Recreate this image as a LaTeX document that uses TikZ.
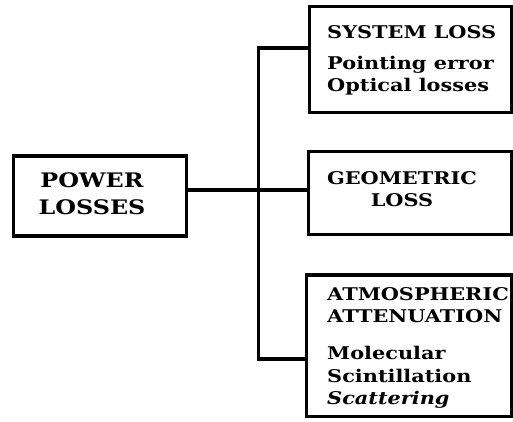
\documentclass[tikz,border=0pt]{standalone}
\usepackage{fontspec}
\setmainfont{DejaVu Serif}
\tikzset{%
  % Specifications for style of boxes and their texts:
        lossbox/.style = {rectangle, draw=black, line width=3.3pt,
                          inner sep=0pt},
        boxtext/.style = {inner sep=0pt, align=left, anchor=north west,
                          font=\bfseries\fontsize{17.5}{22.5}\selectfont,
                          xscale=1.19, transform shape},
      powertext/.style = {boxtext, align=center, anchor=north,
                          font=\bfseries\fontsize{20}{27}\selectfont},
      connector/.style = {line width=3.3pt, line join=miter}
}
\begin{document}
\begin{tikzpicture}[x=1pt, y=1pt]
  \useasboundingbox (0,0) rectangle (513,421);
  % Specification of boxes (position, size)
  \node (power) [lossbox, minimum width=173pt, minimum height=80pt]  at (100,225)    {};
  \node (sys)   [lossbox, minimum width=202pt, minimum height=106pt] at (410.5,361.5) {};
  \node (geo)   [lossbox, minimum width=203pt, minimum height=83pt]  at (410,228)    {};
  \node (atmo)  [lossbox, minimum width=205pt, minimum height=141.5pt] at (409,75.25) {};

  % Texts inside the boxes
  \node (powertxt) [powertext] at (92,249)  {POWER\\LOSSES};
  \node (systxt)   [boxtext]   at (327,396) {SYSTEM LOSS\\[8.5pt]Pointing error\\Optical losses};
  \node (geotxt)   [boxtext, align=center, anchor=north] at (402,250) {GEOMETRIC\\LOSS};
  \node (atmotxt)  [boxtext]   at (327,134) {ATMOSPHERIC\\ATTENUATION\\[14.5pt]Molecular\\Scintillation\\\textit{Scattering}};

  % Branching lines
  \coordinate (trunktop) at (258.3,373);
  \coordinate (trunkmid) at (258.3,231);
  \coordinate (trunkbot) at (258.3,62);
  \draw[connector] (sys.west |- trunktop) -- (trunktop) -- (trunkbot) -- (atmo.west |- trunkbot);
  \draw[connector] (power.east |- trunkmid) -- (geo.west |- trunkmid);
\end{tikzpicture}
\end{document}
